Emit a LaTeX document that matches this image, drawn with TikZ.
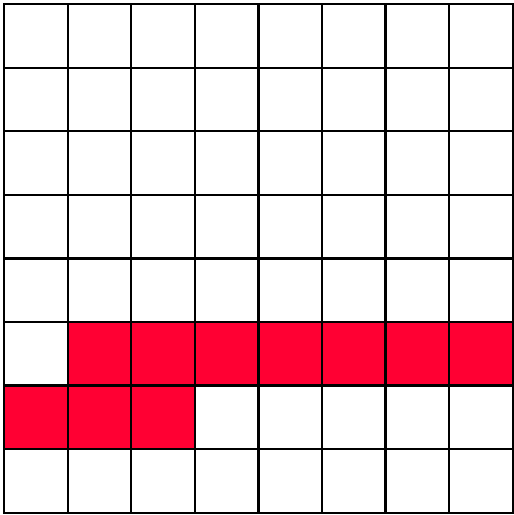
\documentclass[tikz,border=0pt]{standalone}
\usepackage{tikz}
\definecolor{cellred}{HTML}{FF0033}

\begin{document}
\begin{tikzpicture}[
 cell/.style={draw=black,line width=1pt},
 filled/.style={cell,fill=cellred}]

% Page frame matching the reference margins
\useasboundingbox (-0.065,-0.035) rectangle (8.015,8.065);

% Empty board
\foreach \x in {0,...,7}
 \foreach \y in {0,...,7}
  \draw[cell] (\x,\y) rectangle ++(1,1);

% Highlighted cells
\foreach \x in {1,...,7}
 \draw[filled] (\x,2) rectangle ++(1,1);
\foreach \x in {0,1,2}
 \draw[filled] (\x,1) rectangle ++(1,1);
\end{tikzpicture}
\end{document}
